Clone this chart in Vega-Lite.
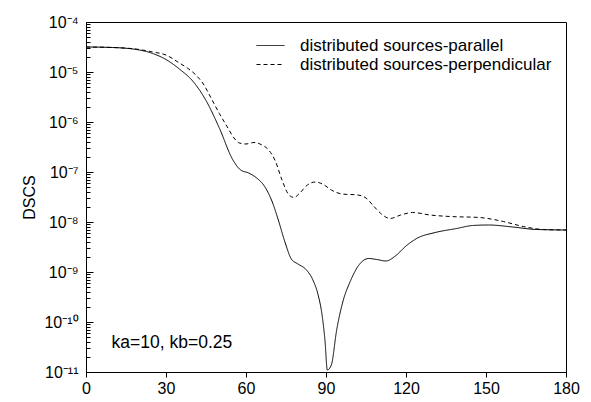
{
  "$schema": "https://vega.github.io/schema/vega-lite/v6.json",
  "width": 480,
  "height": 350,
  "autosize": "none",
  "padding": {"left": 86, "top": 22, "right": 25, "bottom": 30},
  "background": "white",
  "config": {
    "font": "Liberation Sans",
    "view": {"stroke": "black", "strokeWidth": 1},
    "axis": {"domainColor": "black", "tickColor": "black", "labelColor": "black", "titleColor": "black", "grid": false, "labelFont": "Liberation Sans", "titleFont": "Liberation Sans"}
  },
  "datasets": {
    "curves": [
      {"angle": 0, "dscs": 3.162e-5, "series": "distributed sources-parallel"},
      {"angle": 10, "dscs": 3.090e-5, "series": "distributed sources-parallel"},
      {"angle": 20, "dscs": 2.754e-5, "series": "distributed sources-parallel"},
      {"angle": 25, "dscs": 2.344e-5, "series": "distributed sources-parallel"},
      {"angle": 30, "dscs": 1.778e-5, "series": "distributed sources-parallel"},
      {"angle": 35, "dscs": 1.148e-5, "series": "distributed sources-parallel"},
      {"angle": 40, "dscs": 6.607e-6, "series": "distributed sources-parallel"},
      {"angle": 45, "dscs": 2.692e-6, "series": "distributed sources-parallel"},
      {"angle": 50, "dscs": 7.586e-7, "series": "distributed sources-parallel"},
      {"angle": 55, "dscs": 1.778e-7, "series": "distributed sources-parallel"},
      {"angle": 58, "dscs": 1.096e-7, "series": "distributed sources-parallel"},
      {"angle": 61, "dscs": 9.55e-8, "series": "distributed sources-parallel"},
      {"angle": 64, "dscs": 7.586e-8, "series": "distributed sources-parallel"},
      {"angle": 67, "dscs": 5.129e-8, "series": "distributed sources-parallel"},
      {"angle": 70, "dscs": 2.399e-8, "series": "distributed sources-parallel"},
      {"angle": 72, "dscs": 1.148e-8, "series": "distributed sources-parallel"},
      {"angle": 74.6, "dscs": 3.981e-9, "series": "distributed sources-parallel"},
      {"angle": 77, "dscs": 1.820e-9, "series": "distributed sources-parallel"},
      {"angle": 79.5, "dscs": 1.445e-9, "series": "distributed sources-parallel"},
      {"angle": 82.5, "dscs": 1.122e-9, "series": "distributed sources-parallel"},
      {"angle": 85, "dscs": 7.079e-10, "series": "distributed sources-parallel"},
      {"angle": 87, "dscs": 3.548e-10, "series": "distributed sources-parallel"},
      {"angle": 88.5, "dscs": 1.413e-10, "series": "distributed sources-parallel"},
      {"angle": 89.6, "dscs": 4.365e-11, "series": "distributed sources-parallel"},
      {"angle": 90.5, "dscs": 1.096e-11, "series": "distributed sources-parallel"},
      {"angle": 92, "dscs": 1.380e-11, "series": "distributed sources-parallel"},
      {"angle": 94, "dscs": 6.918e-11, "series": "distributed sources-parallel"},
      {"angle": 96.5, "dscs": 2.754e-10, "series": "distributed sources-parallel"},
      {"angle": 99, "dscs": 6.310e-10, "series": "distributed sources-parallel"},
      {"angle": 102.5, "dscs": 1.413e-9, "series": "distributed sources-parallel"},
      {"angle": 106, "dscs": 1.862e-9, "series": "distributed sources-parallel"},
      {"angle": 109, "dscs": 1.778e-9, "series": "distributed sources-parallel"},
      {"angle": 112.5, "dscs": 1.660e-9, "series": "distributed sources-parallel"},
      {"angle": 116, "dscs": 2.089e-9, "series": "distributed sources-parallel"},
      {"angle": 120, "dscs": 3.311e-9, "series": "distributed sources-parallel"},
      {"angle": 124, "dscs": 4.677e-9, "series": "distributed sources-parallel"},
      {"angle": 131, "dscs": 6.166e-9, "series": "distributed sources-parallel"},
      {"angle": 139, "dscs": 7.413e-9, "series": "distributed sources-parallel"},
      {"angle": 145, "dscs": 8.511e-9, "series": "distributed sources-parallel"},
      {"angle": 151, "dscs": 8.710e-9, "series": "distributed sources-parallel"},
      {"angle": 160, "dscs": 7.943e-9, "series": "distributed sources-parallel"},
      {"angle": 169, "dscs": 7.079e-9, "series": "distributed sources-parallel"},
      {"angle": 180, "dscs": 6.918e-9, "series": "distributed sources-parallel"},
      {"angle": 0, "dscs": 3.162e-5, "series": "distributed sources-perpendicular"},
      {"angle": 10, "dscs": 3.090e-5, "series": "distributed sources-perpendicular"},
      {"angle": 20, "dscs": 2.818e-5, "series": "distributed sources-perpendicular"},
      {"angle": 25, "dscs": 2.512e-5, "series": "distributed sources-perpendicular"},
      {"angle": 30, "dscs": 2.188e-5, "series": "distributed sources-perpendicular"},
      {"angle": 35, "dscs": 1.514e-5, "series": "distributed sources-perpendicular"},
      {"angle": 38, "dscs": 1.202e-5, "series": "distributed sources-perpendicular"},
      {"angle": 41, "dscs": 8.913e-6, "series": "distributed sources-perpendicular"},
      {"angle": 44, "dscs": 5.754e-6, "series": "distributed sources-perpendicular"},
      {"angle": 47, "dscs": 2.951e-6, "series": "distributed sources-perpendicular"},
      {"angle": 50, "dscs": 1.479e-6, "series": "distributed sources-perpendicular"},
      {"angle": 53, "dscs": 7.943e-7, "series": "distributed sources-perpendicular"},
      {"angle": 55.5, "dscs": 4.786e-7, "series": "distributed sources-perpendicular"},
      {"angle": 57.5, "dscs": 3.802e-7, "series": "distributed sources-perpendicular"},
      {"angle": 60, "dscs": 3.631e-7, "series": "distributed sources-perpendicular"},
      {"angle": 63, "dscs": 3.890e-7, "series": "distributed sources-perpendicular"},
      {"angle": 66, "dscs": 3.467e-7, "series": "distributed sources-perpendicular"},
      {"angle": 68.5, "dscs": 2.754e-7, "series": "distributed sources-perpendicular"},
      {"angle": 71, "dscs": 1.660e-7, "series": "distributed sources-perpendicular"},
      {"angle": 73.5, "dscs": 6.918e-8, "series": "distributed sources-perpendicular"},
      {"angle": 76, "dscs": 3.548e-8, "series": "distributed sources-perpendicular"},
      {"angle": 78, "dscs": 3.090e-8, "series": "distributed sources-perpendicular"},
      {"angle": 80, "dscs": 3.715e-8, "series": "distributed sources-perpendicular"},
      {"angle": 83, "dscs": 5.495e-8, "series": "distributed sources-perpendicular"},
      {"angle": 86, "dscs": 6.310e-8, "series": "distributed sources-perpendicular"},
      {"angle": 89, "dscs": 5.623e-8, "series": "distributed sources-perpendicular"},
      {"angle": 92, "dscs": 4.365e-8, "series": "distributed sources-perpendicular"},
      {"angle": 96, "dscs": 3.631e-8, "series": "distributed sources-perpendicular"},
      {"angle": 102, "dscs": 3.467e-8, "series": "distributed sources-perpendicular"},
      {"angle": 105, "dscs": 3.020e-8, "series": "distributed sources-perpendicular"},
      {"angle": 108, "dscs": 2.042e-8, "series": "distributed sources-perpendicular"},
      {"angle": 111, "dscs": 1.413e-8, "series": "distributed sources-perpendicular"},
      {"angle": 114, "dscs": 1.175e-8, "series": "distributed sources-perpendicular"},
      {"angle": 118, "dscs": 1.380e-8, "series": "distributed sources-perpendicular"},
      {"angle": 122.5, "dscs": 1.549e-8, "series": "distributed sources-perpendicular"},
      {"angle": 129, "dscs": 1.380e-8, "series": "distributed sources-perpendicular"},
      {"angle": 136.5, "dscs": 1.288e-8, "series": "distributed sources-perpendicular"},
      {"angle": 147.5, "dscs": 1.230e-8, "series": "distributed sources-perpendicular"},
      {"angle": 156.5, "dscs": 1.023e-8, "series": "distributed sources-perpendicular"},
      {"angle": 164, "dscs": 8.128e-9, "series": "distributed sources-perpendicular"},
      {"angle": 171.5, "dscs": 7.079e-9, "series": "distributed sources-perpendicular"},
      {"angle": 180, "dscs": 6.918e-9, "series": "distributed sources-perpendicular"}
    ],
    "note": [
      {"angle": 9.6, "dscs": 3.06e-11, "label": "ka=10, kb=0.25"}
    ]
  },
  "layer": [
    {
      "data": {"name": "curves"},
      "mark": {"type": "line", "color": "black", "strokeWidth": 1, "interpolate": "monotone"},
      "encoding": {
        "x": {
          "field": "angle", "type": "quantitative",
          "scale": {"domain": [0, 180], "nice": false, "zero": false},
          "axis": {"title": null, "values": [0, 30, 60, 90, 120, 150, 180], "labelFontSize": 16, "tickSize": 5, "labelPadding": 3, "labelFlush": false}
        },
        "y": {
          "field": "dscs", "type": "quantitative",
          "scale": {"type": "log", "domain": [1e-11, 1e-4], "nice": false},
          "axis": {
            "title": "DSCS", "titleFontSize": 16, "titleFontWeight": "normal", "titlePadding": 6,
            "labelFontSize": 16, "labelPadding": 15, "labelFlush": false,
            "values": [1e-11,2e-11,3e-11,4e-11,5e-11,6e-11,7e-11,8e-11,9e-11,1e-10,2e-10,3e-10,4e-10,5e-10,6e-10,7e-10,8e-10,9e-10,1e-9,2e-9,3e-9,4e-9,5e-9,6e-9,7e-9,8e-9,9e-9,1e-8,2e-8,3e-8,4e-8,5e-8,6e-8,7e-8,8e-8,9e-8,1e-7,2e-7,3e-7,4e-7,5e-7,6e-7,7e-7,8e-7,9e-7,1e-6,2e-6,3e-6,4e-6,5e-6,6e-6,7e-6,8e-6,9e-6,1e-5,2e-5,3e-5,4e-5,5e-5,6e-5,7e-5,8e-5,9e-5,1e-4],
            "tickSize": {"condition": {"test": "abs(log(datum.value)/LN10 - round(log(datum.value)/LN10)) < 0.001", "value": -7}, "value": -4},
            "labelExpr": "abs(log(datum.value)/LN10 - round(log(datum.value)/LN10)) > 0.001 ? '' : '10' + ['⁻⁴','⁻⁵','⁻⁶','⁻⁷','⁻⁸','⁻⁹','⁻¹⁰','⁻¹¹'][round(-log(datum.value)/LN10) - 4]"
          }
        },
        "strokeDash": {
          "field": "series", "type": "nominal",
          "scale": {"domain": ["distributed sources-parallel", "distributed sources-perpendicular"], "range": [[1, 0], [4, 3]]},
          "legend": {
            "title": null, "orient": "none", "legendX": 176, "legendY": 15,
            "symbolType": "M-2,0H2", "symbolSize": 196, "symbolStrokeWidth": 1, "symbolStrokeColor": "black",
            "labelFontSize": 17, "labelOffset": 21, "labelColor": "black", "labelLimit": 0, "rowPadding": 1, "padding": 0
          }
        }
      }
    },
    {
      "data": {"name": "note"},
      "mark": {"type": "text", "align": "left", "baseline": "alphabetic", "fontSize": 17.5, "color": "black"},
      "encoding": {
        "x": {"field": "angle", "type": "quantitative"},
        "y": {"field": "dscs", "type": "quantitative"},
        "text": {"field": "label"}
      }
    }
  ]
}
